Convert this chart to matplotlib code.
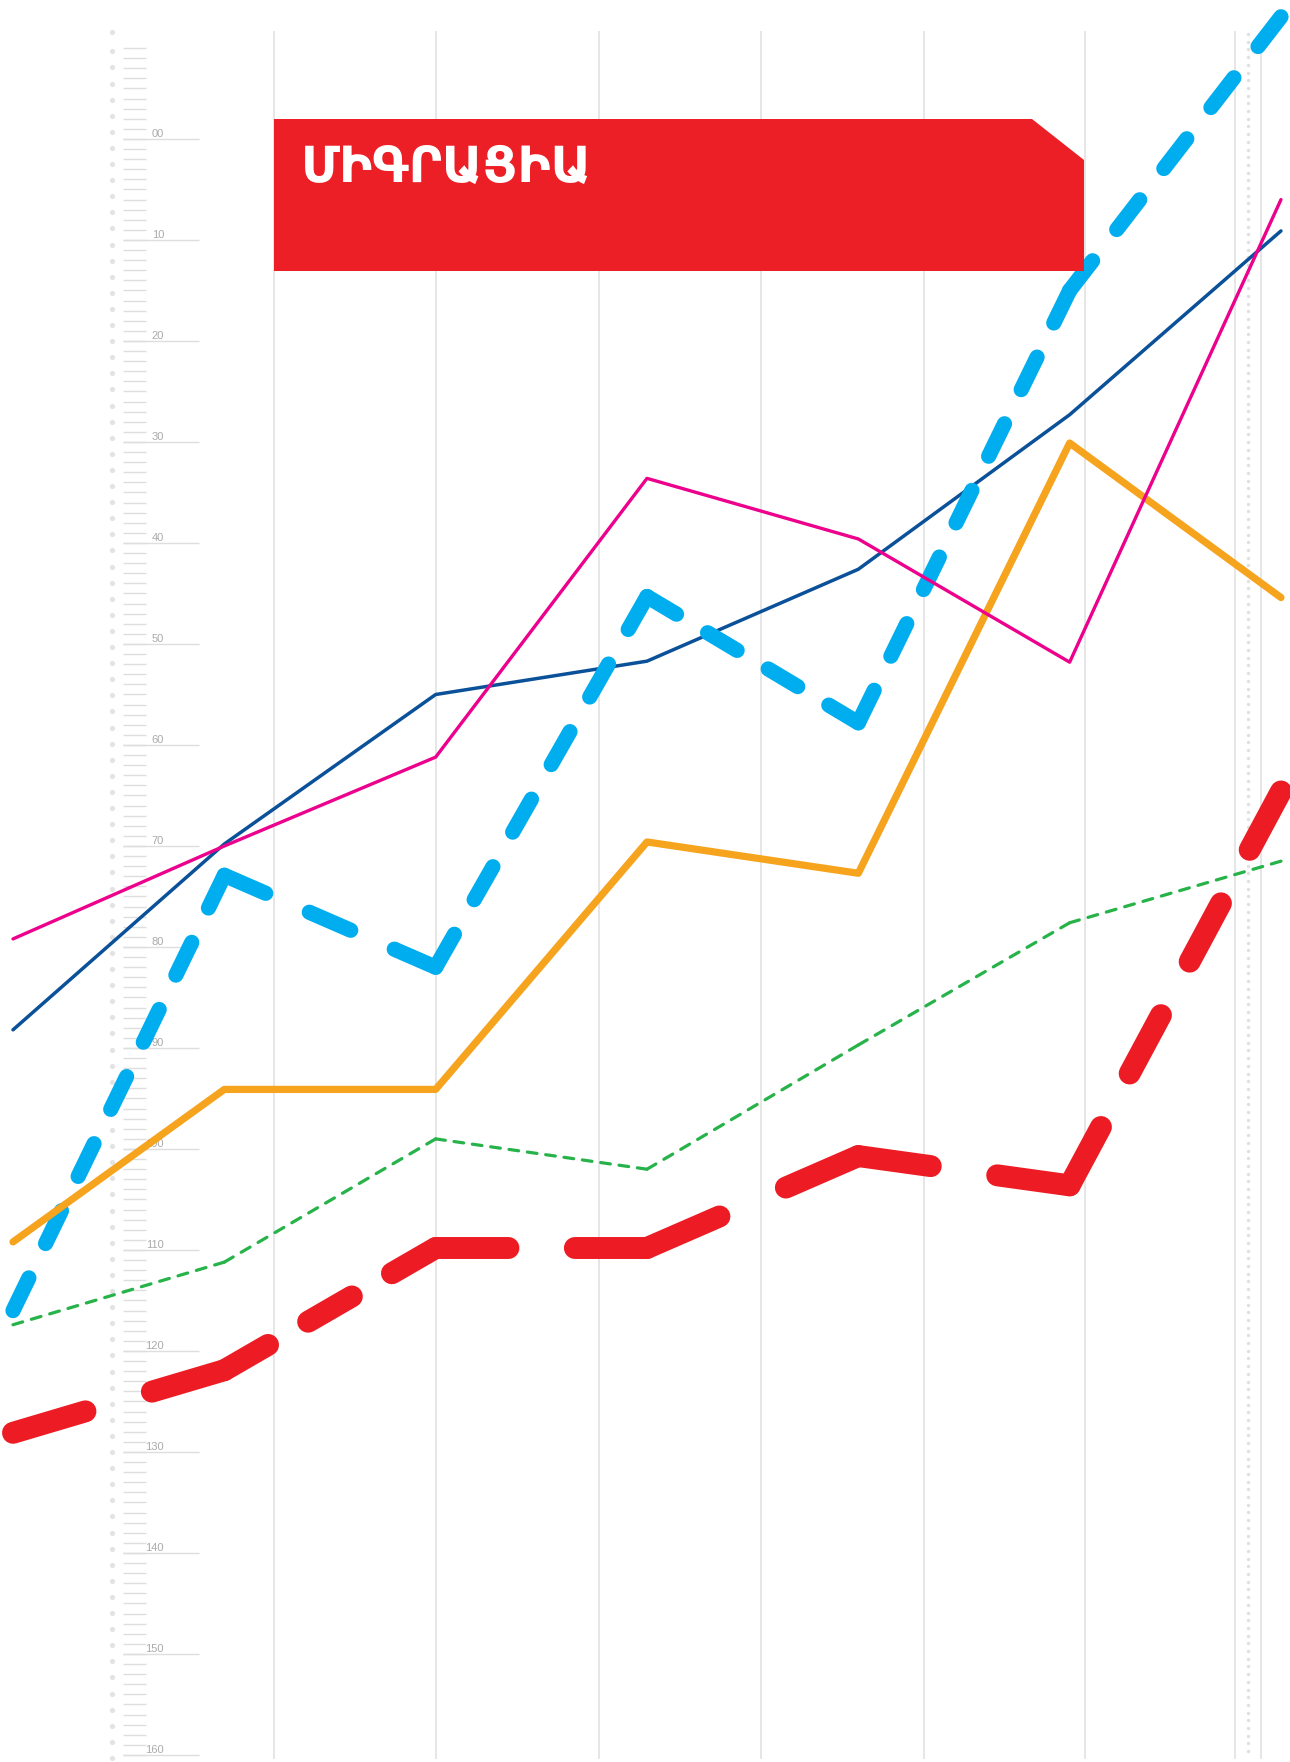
import numpy as np
import matplotlib
matplotlib.use("Agg")
import matplotlib.pyplot as plt
from matplotlib.patches import Polygon

plt.rcParams['lines.scale_dashes'] = False

# data, one value per period
periods = [0, 1, 2, 3, 4, 5, 6]
navy = [88.2, 69.8, 55.0, 51.7, 42.6, 27.3, 9.1]
pink = [79.2, 70.0, 61.2, 33.6, 39.6, 51.8, 6.0]
orange = [109.2, 94.1, 94.1, 69.6, 72.7, 30.1, 45.4]
blue = [116.0, 72.9, 82.0, 45.3, 57.8, 15.0, -12.1]
green = [117.4, 111.2, 99.0, 102.0, 89.7, 77.6, 71.5]
red = [128.1, 121.9, 109.8, 109.8, 100.7, 103.6, 64.6]

scale_labels = ["00"] + [str(v) for v in range(10, 161, 10)]
scale_values = list(range(0, 161, 10))
title = "ՄԻԳՐԱՑԻԱ"

W, H, DPI = 1290, 1762, 100


def fx(px):
    return px / W


def fy(py):
    return 1 - py / H


def aligned_dashes(ax, xs, ys, dash_px, gap_px, **kw):
    # every segment starts and ends with a full dash (corners get bent dashes)
    pts = ax.transData.transform(np.column_stack([xs, ys]))
    for i in range(len(xs) - 1):
        L = np.hypot(*(pts[i + 1] - pts[i]))
        n = max(1, int(round((L + gap_px) / (dash_px + gap_px))))
        s = L / (n * dash_px + (n - 1) * gap_px)
        on = dash_px * s * 72 / DPI
        off = gap_px * s * 72 / DPI
        ax.plot(xs[i:i + 2], ys[i:i + 2], dashes=(on, off),
                dash_capstyle='round', dash_joinstyle='round', **kw)


fig = plt.figure(figsize=(W / DPI, H / DPI), dpi=DPI)
ax = fig.add_axes([0, 0, 1, 1])
ax.axis('off')
xlim = (-13 / 211.33, (W - 13) / 211.33)
ylim = ((H - 139) / 10.1, -139 / 10.1)
ax.set_xlim(*xlim)
ax.set_ylim(*ylim)
ax.set_autoscale_on(False)

# background grid
grid_col = '#e6e6e6'
for gx in [274, 436, 599, 761, 924, 1085, 1235, 1261]:
    ax.plot([fx(gx), fx(gx)], [fy(32), fy(1758)], color=grid_col, lw=1.4,
            transform=ax.transAxes, zorder=0)
dot_y = np.arange(34, 1758, 7.7)
ax.scatter(np.full(len(dot_y), fx(1248)), fy(dot_y), s=6, color='#e0e0e0',
           lw=0, transform=ax.transAxes, zorder=0)

# ruler on the left
ruler_dots = np.concatenate([[32], np.arange(51.3, 1760, 16.1)])
ax.scatter(np.full(len(ruler_dots), fx(112)), fy(ruler_dots), s=14,
           color='#e3e3e3', lw=0, transform=ax.transAxes, zorder=0)
ytr = ax.get_yaxis_transform()
minor = np.arange(-9, 161)
ax.hlines(minor, fx(123), fx(146), color='#dedede', lw=1.0, transform=ytr, zorder=0)
ax.hlines(scale_values, fx(123), fx(199), color='#dedede', lw=1.0, transform=ytr, zorder=0)
for v, lab in zip(scale_values, scale_labels):
    ax.text(fx(164), v, lab, transform=ytr, ha='right', va='bottom',
            fontsize=8, color='#aaaaaa', family='Liberation Sans', zorder=1)

# series
aligned_dashes(ax, periods, red, 60, 55, color='#ed1c24', lw=15.8, zorder=2)
aligned_dashes(ax, periods, green, 10, 9, color='#27b24a', lw=2.3, zorder=3)
ax.plot(periods, navy, color='#0b5199', lw=2.5, solid_capstyle='round',
        solid_joinstyle='round', zorder=4)
aligned_dashes(ax, periods, blue, 38, 40, color='#00aeef', lw=11, zorder=5)
ax.plot(periods, orange, color='#f6a31e', lw=5.2, solid_capstyle='round',
        solid_joinstyle='round', zorder=6)
ax.plot(periods, pink, color='#ec008c', lw=2.4, solid_capstyle='round',
        solid_joinstyle='round', zorder=7)

# title banner
box = Polygon([(fx(274), fy(119)), (fx(1032), fy(119)), (fx(1084), fy(160)),
               (fx(1084), fy(271)), (fx(274), fy(271))], closed=True,
              facecolor='#ed1f26', edgecolor='none', transform=ax.transAxes, zorder=10)
ax.add_patch(box)
ax.text(fx(301), fy(182), title, transform=ax.transAxes, ha='left', va='baseline',
        fontsize=36, fontweight='bold', family='DejaVu Sans', color='white', zorder=11)

fig.savefig('out.png', dpi=DPI)
